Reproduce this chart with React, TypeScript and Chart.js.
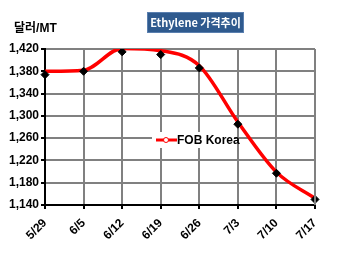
import React, { useEffect, useRef } from "react";
import { Chart, registerables } from "chart.js";

Chart.register(...registerables);

const categories = ["5/29", "6/5", "6/12", "6/19", "6/26", "7/3", "7/10", "7/17"];
const fobKorea = [1380, 1382, 1421, 1417, 1390, 1289, 1199, 1152];
const fobMarkers = [1374, 1380, 1415, 1410, 1386, 1285, 1197, 1150];
const yTicks = [1140, 1180, 1220, 1260, 1300, 1340, 1380, 1420];
const titleText = "Ethylene 가격추이";
const unitText = "달러/MT";
const seriesName = "FOB Korea";

const decorPlugin = {
  id: "decor",
  afterDraw(chart: any) {
    const ctx = chart.ctx;
    const area = chart.chartArea;
    ctx.save();
    // title box
    ctx.fillStyle = "#2F5A8E";
    ctx.fillRect(147, 12, 97, 21);
    ctx.strokeStyle = "#5A7FAF";
    ctx.lineWidth = 1;
    ctx.strokeRect(147.5, 12.5, 96, 20);
    ctx.fillStyle = "#FFFFFF";
    ctx.font = "bold 11px 'Noto Sans CJK KR', 'Noto Sans', sans-serif";
    ctx.textAlign = "center";
    ctx.textBaseline = "middle";
    ctx.fillText(titleText, 195.5, 22.5);
    // unit label
    ctx.fillStyle = "#000000";
    ctx.font = "bold 12px 'Liberation Sans', 'Noto Sans CJK KR', sans-serif";
    ctx.textAlign = "left";
    ctx.fillText(unitText, 14, 29);
    // right border
    ctx.strokeStyle = "#808080";
    ctx.lineWidth = 2;
    ctx.beginPath();
    ctx.moveTo(area.right, area.top);
    ctx.lineTo(area.right, area.bottom);
    ctx.stroke();
    ctx.restore();
  },
  afterDatasetsDraw(chart: any) {
    const ctx = chart.ctx;
    ctx.save();
    // legend inside plot
    ctx.fillStyle = "#FFFFFF";
    ctx.fillRect(152, 132, 82, 16);
    ctx.strokeStyle = "#FF0000";
    ctx.lineWidth = 3;
    ctx.beginPath();
    ctx.moveTo(156, 140);
    ctx.lineTo(177, 140);
    ctx.stroke();
    ctx.fillStyle = "#FFFFFF";
    ctx.lineWidth = 1;
    ctx.beginPath();
    ctx.arc(166, 140, 2.5, 0, Math.PI * 2);
    ctx.fill();
    ctx.stroke();
    ctx.fillStyle = "#000000";
    ctx.font = "bold 12px 'Liberation Sans', Arial, sans-serif";
    ctx.textAlign = "left";
    ctx.textBaseline = "middle";
    ctx.fillText(seriesName, 177, 140.5);
    ctx.restore();
  },
};

export default function App() {
  const ref = useRef<HTMLCanvasElement>(null);
  useEffect(() => {
    if (!ref.current) return;
    const chart = new Chart(ref.current, {
      type: "line",
      data: {
        labels: categories,
        datasets: [
          {
            label: seriesName,
            data: fobKorea,
            borderColor: "#FF0000",
            borderWidth: 3.5,
            tension: 0.4,
            cubicInterpolationMode: "monotone",
            pointRadius: 0,
            fill: false,
            order: 2,
          },
          {
            label: "markers",
            data: fobMarkers,
            showLine: false,
            pointStyle: "rectRot",
            pointRadius: 4,
            pointBackgroundColor: "#000000",
            pointBorderColor: "#000000",
            borderColor: "#000000",
            order: 1,
          },
        ],
      },
      options: {
        animation: false,
        responsive: false,
        maintainAspectRatio: false,
        layout: { padding: { top: 49, right: 35, left: 0, bottom: 0 } },
        plugins: {
          legend: { display: false },
          title: { display: false },
          tooltip: { enabled: false },
        },
        scales: {
          x: {
            offset: false,
            grid: { color: "#808080", lineWidth: 2, drawTicks: true, tickLength: 4, tickColor: "#000000" },
            border: { color: "#000000", width: 2 },
            ticks: {
              color: "#000000",
              font: { family: "'Liberation Sans', Arial, sans-serif", size: 12, weight: "bold" },
              minRotation: 45,
              maxRotation: 45,
              autoSkip: false,
              padding: 7,
            },
            afterFit: (s: any) => {
              s.height = 49;
            },
          },
          y: {
            min: 1140,
            max: 1420,
            afterBuildTicks: (s: any) => {
              s.ticks = yTicks.map((v) => ({ value: v }));
            },
            grid: { color: "#808080", lineWidth: 2, drawTicks: true, tickLength: 4, tickColor: "#000000" },
            border: { color: "#000000", width: 2 },
            ticks: {
              color: "#000000",
              font: { family: "'Liberation Sans', Arial, sans-serif", size: 12, weight: "bold" },
              padding: 2,
              callback: (v: any) => Number(v).toLocaleString("en-US"),
            },
            afterFit: (s: any) => {
              s.width = 45;
            },
          },
        },
      },
      plugins: [decorPlugin],
    });
    return () => chart.destroy();
  }, []);
  return (
    <div style={{ position: "absolute", left: 0, top: 0, width: 350, height: 254, background: "#FFFFFF" }}>
      <canvas ref={ref} width={350} height={254} />
    </div>
  );
}
